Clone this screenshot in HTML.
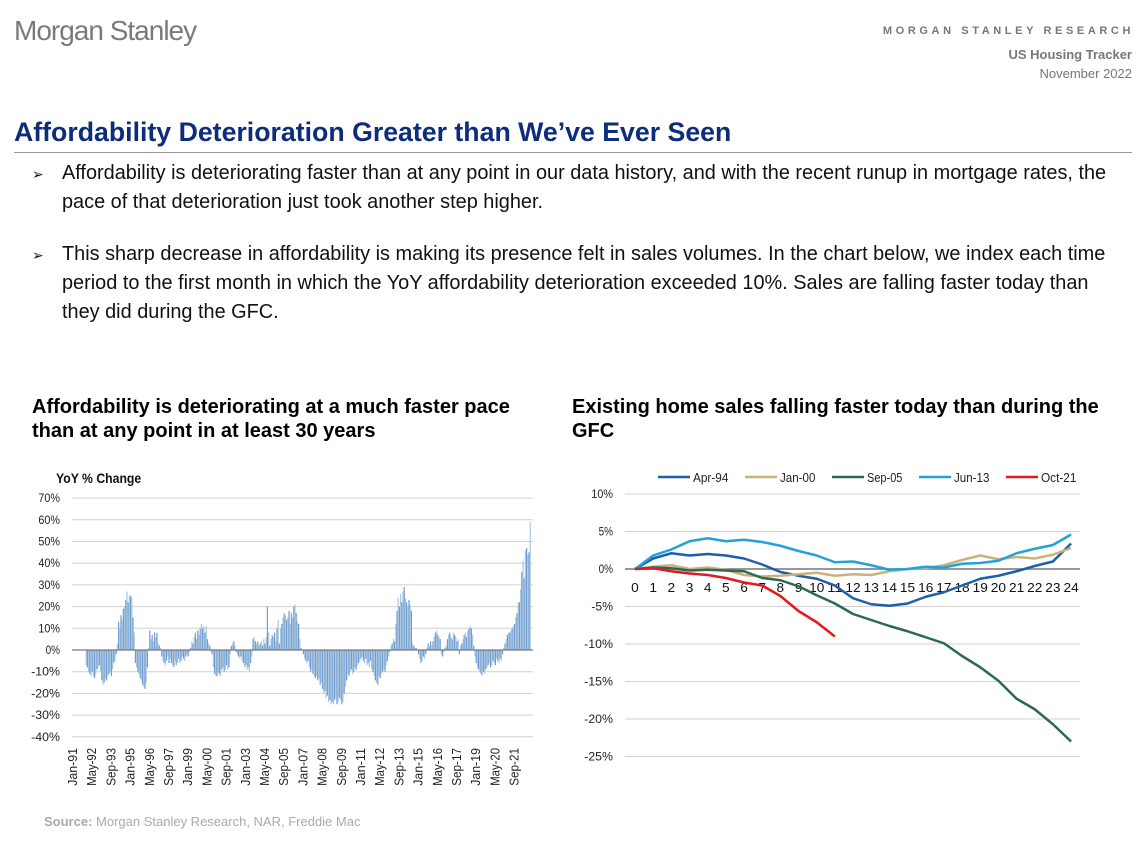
<!DOCTYPE html>
<html><head><meta charset="utf-8"><style>
body{margin:0;width:1146px;height:843px;background:#fff;position:relative;overflow:hidden;font-family:"Liberation Sans",sans-serif}
.a{position:absolute;white-space:nowrap}
.b{font-size:19.9px;color:#111;line-height:29px}
.arr{position:absolute;font-size:14px;color:#111}
</style></head><body>
<div class="a" style="left:14px;top:15px;font-size:28px;color:#7a7a7a;letter-spacing:-1px">Morgan Stanley</div>
<div class="a" style="right:12px;top:25px;font-size:11px;font-weight:bold;color:#777;letter-spacing:3.6px">MORGAN STANLEY RESEARCH</div>
<div class="a" style="right:14px;top:47px;font-size:13px;font-weight:bold;color:#777">US Housing Tracker</div>
<div class="a" style="right:14px;top:66px;font-size:13px;color:#777">November 2022</div>
<div class="a" style="left:14px;top:117px;font-size:26.7px;font-weight:bold;color:#0d2d7a">Affordability Deterioration Greater than We’ve Ever Seen</div>
<div class="a" style="left:14px;top:152px;width:1118px;height:1px;background:#999"></div>
<div class="arr" style="left:32px;top:166px">➢</div>
<div class="a b" style="left:62px;top:159px">Affordability is deteriorating faster than at any point in our data history, and with the recent runup in mortgage rates, the<br>pace of that deterioration just took another step higher.</div>
<div class="arr" style="left:32px;top:247px">➢</div>
<div class="a b" style="left:62px;top:240px">This sharp decrease in affordability is making its presence felt in sales volumes. In the chart below, we index each time<br>period to the first month in which the YoY affordability deterioration exceeded 10%. Sales are falling faster today than<br>they did during the GFC.</div>
<div class="a" style="left:32px;top:395px;font-size:20px;font-weight:bold;color:#000;line-height:24px">Affordability is deteriorating at a much faster pace<br>than at any point in at least 30 years</div>
<div class="a" style="left:572px;top:395px;font-size:20px;font-weight:bold;color:#000;line-height:24px">Existing home sales falling faster today than during the<br>GFC</div>
<div class="a" style="left:44px;top:814px;font-size:13px;color:#aaa"><b>Source:</b> Morgan Stanley Research, NAR, Freddie Mac</div>
<svg id="s" width="1146" height="843" style="position:absolute;left:0;top:0" font-family="Liberation Sans, sans-serif"></svg>
<script>
// Left chart data: monthly YoY % change, Jan-91 .. Oct-22
const yoyValues = [
0,0,0,0,0,0,0,0,0,0,0,-7,
-8,-10,-11,-12,-10,-12,-13,-11,-9,-8,-7,-10,
-14,-16,-15,-13,-14,-12,-11,-10,-12,-9,-6,-5,
-2,3,13,10,16,14,19,20,23,27,22,25,
25,24,15,8,-6,-8,-10,-11,-13,-14,-16,-17,
-18,-15,-8,1,9,5,7,4,8,6,8,3,
2,1,-3,-5,-6,-7,-5,-3,-6,-4,-6,-7,
-8,-5,-7,-6,-4,-6,-5,-3,-4,-5,-3,-2,
-3,-1,1,4,3,6,8,5,9,7,10,12,
10,11,8,11,5,3,2,-1,-2,-8,-11,-12,
-12,-10,-11,-12,-9,-8,-10,-9,-7,-9,-8,-2,
2,3,4,2,-1,-2,-3,-4,-3,-5,-6,-8,
-7,-9,-8,-10,-6,-3,5,6,4,3,4,2,
3,4,2,5,3,6,20,8,2,5,7,6,
8,4,10,14,3,10,12,15,17,16,14,15,
18,12,17,15,20,21,17,13,12,5,1,0,
-2,-4,-5,-6,-5,-8,-10,-9,-11,-12,-13,-12,
-14,-13,-16,-15,-18,-20,-19,-22,-21,-24,-23,-25,
-24,-25,-23,-22,-25,-24,-22,-23,-25,-24,-20,-17,
-14,-11,-12,-10,-9,-11,-10,-8,-9,-7,-6,-5,
-4,-3,-5,-6,-4,-7,-6,-8,-5,-9,-10,-12,
-14,-15,-16,-12,-13,-11,-10,-9,-10,-7,-5,-3,
-1,2,3,5,4,12,18,24,20,26,22,27,
29,24,22,20,23,21,18,3,2,1,1,0,
-2,-4,-6,-5,-3,-4,-2,1,3,2,4,2,
4,6,8,9,7,6,5,-2,-3,-1,1,2,
5,7,8,6,5,8,7,6,4,5,-2,2,
3,5,7,8,6,9,10,11,10,7,2,-3,
-6,-8,-9,-10,-11,-12,-10,-11,-9,-8,-7,-6,
-8,-7,-5,-6,-7,-4,-5,-6,-4,-5,-2,1,
3,5,7,8,8,9,10,11,12,15,17,22,
22,28,36,41,33,46,47,44,45,59];
const monthNames = ['Jan','Feb','Mar','Apr','May','Jun','Jul','Aug','Sep','Oct','Nov','Dec'];
const yTicksLeft = [70,60,50,40,30,20,10,0,-10,-20,-30,-40];
// Right chart data
const months = [0,1,2,3,4,5,6,7,8,9,10,11,12,13,14,15,16,17,18,19,20,21,22,23,24];
const seriesNames = ['Apr-94','Jan-00','Sep-05','Jun-13','Oct-21'];
const apr94 = [0,1.4,2.1,1.8,2.0,1.8,1.4,0.6,-0.4,-0.9,-1.3,-2.2,-3.9,-4.7,-4.9,-4.6,-3.7,-3.1,-2.2,-1.3,-0.9,-0.3,0.4,1.0,3.4];
const jan00 = [0,0.3,0.5,0,0.2,-0.1,-0.8,-1.0,-0.9,-0.7,-0.5,-0.9,-0.7,-0.8,-0.3,0,0.1,0.5,1.2,1.8,1.3,1.6,1.4,1.9,2.8];
const sep05 = [0,0.2,0.1,-0.2,-0.1,-0.2,-0.3,-1.2,-1.5,-2.3,-3.5,-4.6,-6.0,-6.8,-7.6,-8.3,-9.1,-9.9,-11.6,-13.1,-14.9,-17.3,-18.7,-20.7,-23.0];
const jun13 = [0,1.8,2.6,3.7,4.1,3.7,3.9,3.6,3.1,2.4,1.8,0.9,1.0,0.5,-0.1,0,0.3,0.2,0.7,0.8,1.1,2.1,2.7,3.2,4.6];
const oct21 = [0,0.1,-0.3,-0.6,-0.8,-1.2,-1.8,-2.2,-3.6,-5.6,-7.1,-9.0];
const yTicksRight = [10,5,0,-5,-10,-15,-20,-25];

const S = document.getElementById('s');
const NS = 'http://www.w3.org/2000/svg';
function mk(tag, attrs, parent) {
  const e = document.createElementNS(NS, tag);
  for (const k in attrs) e.setAttribute(k, attrs[k]);
  (parent || S).appendChild(e);
  return e;
}
function narrow(t, s) {
  t.setAttribute('textLength', (t.textContent.length * s).toFixed(1));
  t.setAttribute('lengthAdjust', 'spacingAndGlyphs');
}

// ---- Left chart ----
const Lx0 = 73, Lstep = 1.2, LxEnd = 533;
const ly = v => 650 - v * 2.17;
const lx = i => Lx0 + i * Lstep;
const gL = mk('g', {});


const yt = mk('text', {x: 56, y: 483, 'font-size': 14, 'font-weight': 'bold', fill: '#111'}, gL);
yt.textContent = 'YoY % Change';
narrow(yt, 7.1);


yTicksLeft.forEach(v => {
  const gl = mk('line', {x1: 72, x2: LxEnd, y1: ly(v), y2: ly(v), stroke: '#d0d0d0', 'stroke-width': 1}, gL);
  
  
  const t = mk('text', {x: 60, y: ly(v) + 4, 'font-size': 12, 'text-anchor': 'end', fill: '#222'}, gL);
  t.textContent = v + '%';
  narrow(t, 7.2);
  
  
});
yoyValues.forEach((v, i) => {
  if (v === 0) return;
  const y0 = ly(0), y1 = ly(v);
  const r = mk('rect', {x: lx(i) - 0.6, y: Math.min(y0, y1), width: 1.2, height: Math.abs(y1 - y0), fill: i % 2 ? '#a9c6e3' : '#6f9dcf'}, gL);
  
  
});
mk('line', {x1: 72, x2: LxEnd, y1: ly(0), y2: ly(0), stroke: '#777', 'stroke-width': 1.3}, gL);
for (let i = 0; i < yoyValues.length; i += 16) {
  const x = lx(i) + 4;
  const label = monthNames[i % 12] + '-' + String((1991 + Math.floor(i / 12)) % 100).padStart(2, '0');
  const t = mk('text', {x: 0, y: 0, 'font-size': 12.5, 'text-anchor': 'end', fill: '#222', transform: `translate(${x},748) rotate(-90)`}, gL);
  t.textContent = label;
  narrow(t, 6.3);
  
  
}

// ---- Right chart ----
const rx = m => 635 + m * 18.17;
const ry = v => 569 - v * 7.5;
const gR = mk('g', {});


yTicksRight.forEach(v => {
  if (v !== 0) {
    const gl = mk('line', {x1: 625, x2: 1080, y1: ry(v), y2: ry(v), stroke: '#d0d0d0', 'stroke-width': 1}, gR);
    
    
  }
  const t = mk('text', {x: 613, y: ry(v) + 4, 'font-size': 12, 'text-anchor': 'end', fill: '#222'}, gR);
  t.textContent = v + '%';
  narrow(t, 7.2);
  
  
});
mk('line', {x1: 625, x2: 1080, y1: ry(0), y2: ry(0), stroke: '#888', 'stroke-width': 1.8}, gR);
months.forEach(m => {
  const t = mk('text', {x: rx(m), y: 592, 'font-size': 13, 'text-anchor': 'middle', fill: '#111'}, gR);
  t.textContent = m;
  narrow(t, 7.6);
  
  
});
const seriesData = [apr94, jan00, sep05, jun13, oct21];
const colors = ['#1f5ea8', '#c9b27b', '#2b6a52', '#22a2dc', '#e3191e'];
const legX = [658, 745, 832, 919, 1006];
seriesData.forEach((arr, k) => {
  const p = mk('polyline', {points: arr.map((v, i) => rx(months[i]) + ',' + ry(v)).join(' '), fill: 'none', stroke: colors[k], 'stroke-width': 2.5, 'stroke-linejoin': 'round'}, gR);
  
  
  const lg = mk('g', {}, gR);
  
  
  mk('line', {x1: legX[k], x2: legX[k] + 32, y1: 477, y2: 477, stroke: colors[k], 'stroke-width': 2.5}, lg);
  const t = mk('text', {x: legX[k] + 35, y: 482, 'font-size': 13, fill: '#222'}, lg);
  t.textContent = seriesNames[k];
  narrow(t, 5.9);
});
</script>
</body></html>
